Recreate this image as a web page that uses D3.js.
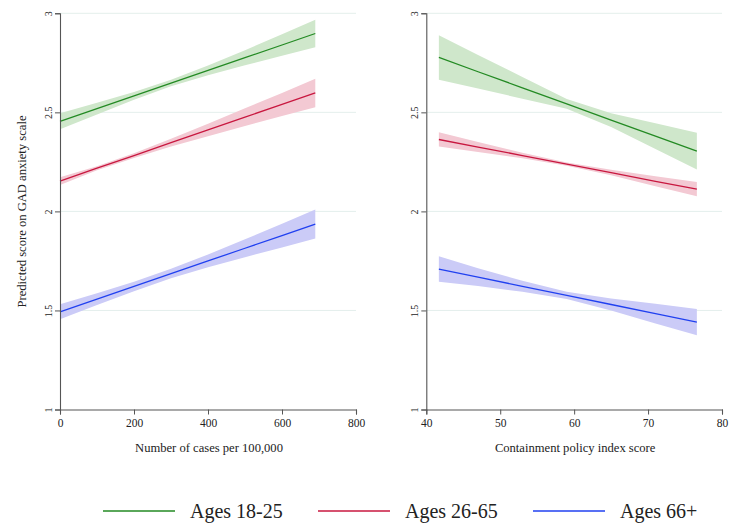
<!DOCTYPE html>
<html>
<head>
<meta charset="utf-8">
<script src="https://cdn.jsdelivr.net/npm/d3@7"></script>
<style>
  html, body { margin: 0; padding: 0; background: #fff; }
  svg { display: block; }
  text { font-family: "Liberation Serif", "Times New Roman", serif; fill: #222; }
</style>
</head>
<body>
<svg id="chart" width="733" height="523"></svg>
<script>
// ---- Data ----
const seriesNames = ["Ages 18-25", "Ages 26-65", "Ages 66+"];
const seriesColors = ["#238a23", "#c8173f", "#2040f0"];
const bandColors = ["#cfe7cb", "#f3c9d3", "#cbcbf7"];

// Left panel: number of cases per 100,000
const casesX = [0, 100, 200, 300, 400, 500, 600, 690];
const casesPred = [
  [2.455, 2.519, 2.583, 2.648, 2.712, 2.776, 2.840, 2.898],
  [2.153, 2.218, 2.282, 2.347, 2.411, 2.476, 2.540, 2.598],
  [1.493, 1.557, 1.621, 1.686, 1.750, 1.814, 1.878, 1.936]
];
const casesLo = [
  [2.415, 2.489, 2.563, 2.632, 2.687, 2.738, 2.786, 2.828],
  [2.133, 2.208, 2.270, 2.327, 2.379, 2.431, 2.482, 2.526],
  [1.455, 1.527, 1.597, 1.662, 1.718, 1.769, 1.818, 1.863]
];
const casesHi = [
  [2.495, 2.549, 2.603, 2.664, 2.737, 2.814, 2.894, 2.968],
  [2.173, 2.228, 2.294, 2.367, 2.443, 2.521, 2.598, 2.670],
  [1.531, 1.587, 1.645, 1.710, 1.782, 1.859, 1.938, 2.009]
];

// Right panel: containment policy index score
const policyX = [41.7, 47, 53, 59, 65, 71, 76.6];
const policyPred = [
  [2.777, 2.705, 2.624, 2.543, 2.461, 2.380, 2.304],
  [2.363, 2.325, 2.282, 2.239, 2.196, 2.152, 2.112],
  [1.709, 1.668, 1.622, 1.576, 1.530, 1.484, 1.441]
];
const policyLo = [
  [2.665, 2.620, 2.569, 2.518, 2.426, 2.315, 2.211],
  [2.327, 2.300, 2.268, 2.231, 2.182, 2.127, 2.076],
  [1.645, 1.623, 1.594, 1.558, 1.500, 1.434, 1.375]
];
const policyHi = [
  [2.889, 2.790, 2.679, 2.568, 2.496, 2.445, 2.397],
  [2.399, 2.350, 2.296, 2.247, 2.210, 2.177, 2.148],
  [1.773, 1.713, 1.650, 1.594, 1.560, 1.534, 1.507]
];

const yTicks = [1, 1.5, 2, 2.5, 3];
const yGrid = [1.5, 2, 2.5, 3];
const casesTicks = [0, 200, 400, 600, 800];
const policyTicks = [40, 50, 60, 70, 80];
const yTitle = "Predicted score on GAD anxiety scale";
const casesTitle = "Number of cases per 100,000";
const policyTitle = "Containment policy index score";

// ---- Drawing ----
const svg = d3.select("#chart");
const plotTop = 13.3, plotBottom = 409.5;
const y = d3.scaleLinear().domain([1, 3]).range([plotBottom, plotTop]);
const serif = "Liberation Serif, Times New Roman, serif";

function panel(x0, x1, domain, ticks, xs, pred, lo, hi, title) {
  const x = d3.scaleLinear().domain(domain).range([x0, x1]);
  const g = svg.append("g");

  // gridlines
  g.selectAll("line.grid").data(yGrid).enter().append("line")
    .attr("x1", x0).attr("x2", x1)
    .attr("y1", d => y(d)).attr("y2", d => y(d))
    .attr("stroke", "#e4efec").attr("stroke-width", 1);

  // bands
  const area = d3.area().x(d => x(d[0])).y0(d => y(d[1])).y1(d => y(d[2]));
  const line = d3.line().x(d => x(d[0])).y(d => y(d[1]));
  for (let s = 0; s < 3; s++) {
    const pts = xs.map((v, i) => [v, lo[s][i], hi[s][i]]);
    g.append("path").attr("d", area(pts)).attr("fill", bandColors[s]).attr("stroke", "none");
  }
  for (let s = 0; s < 3; s++) {
    const pts = xs.map((v, i) => [v, pred[s][i]]);
    g.append("path").attr("d", line(pts)).attr("fill", "none")
      .attr("stroke", seriesColors[s]).attr("stroke-width", 1.3);
  }

  // x axis
  const xa = g.append("g").attr("transform", `translate(0,${plotBottom})`)
    .call(d3.axisBottom(x).tickValues(ticks).tickSize(5).tickPadding(4).tickFormat(d3.format("d")));
  xa.select(".domain").attr("stroke", "#555").attr("stroke-width", 1.1);
  xa.selectAll(".tick line").attr("stroke", "#555");
  xa.selectAll(".tick text").attr("font-size", 11.5)
    .attr("font-family", serif).attr("fill", "#222");

  // y axis
  const ya = g.append("g").attr("transform", `translate(${x0},0)`)
    .call(d3.axisLeft(y).tickValues(yTicks).tickSize(5).tickFormat(d3.format("")));
  ya.select(".domain").attr("stroke", "#555").attr("stroke-width", 1.1);
  ya.selectAll(".tick line").attr("stroke", "#555");
  ya.selectAll(".tick text")
    .attr("font-size", 10)
    .attr("font-family", serif).attr("fill", "#222")
    .attr("x", 0).attr("dy", 0)
    .attr("text-anchor", "middle")
    .attr("transform", d => `translate(-8.5,0) rotate(-90)`);

  // x title
  g.append("text").attr("x", (x0 + x1) / 2 + 1).attr("y", 452)
    .attr("text-anchor", "middle").attr("font-size", 12.6).text(title);
}

panel(60, 356, [0, 800], casesTicks, casesX, casesPred, casesLo, casesHi, casesTitle);
panel(426.3, 722, [40, 80], policyTicks, policyX, policyPred, policyLo, policyHi, policyTitle);

// y title
svg.append("text").attr("transform", `translate(26,211.5) rotate(-90)`)
  .attr("text-anchor", "middle").attr("font-size", 12.6).text(yTitle);

// legend
const legX = [103, 318, 533];
const leg = svg.append("g");
seriesNames.forEach((n, i) => {
  leg.append("line").attr("x1", legX[i]).attr("x2", legX[i] + 72)
    .attr("y1", 511).attr("y2", 511)
    .attr("stroke", seriesColors[i]).attr("stroke-width", 1.6);
  leg.append("text").attr("x", legX[i] + 87).attr("y", 518)
    .attr("font-size", 20).text(n);
});
</script>
</body>
</html>
